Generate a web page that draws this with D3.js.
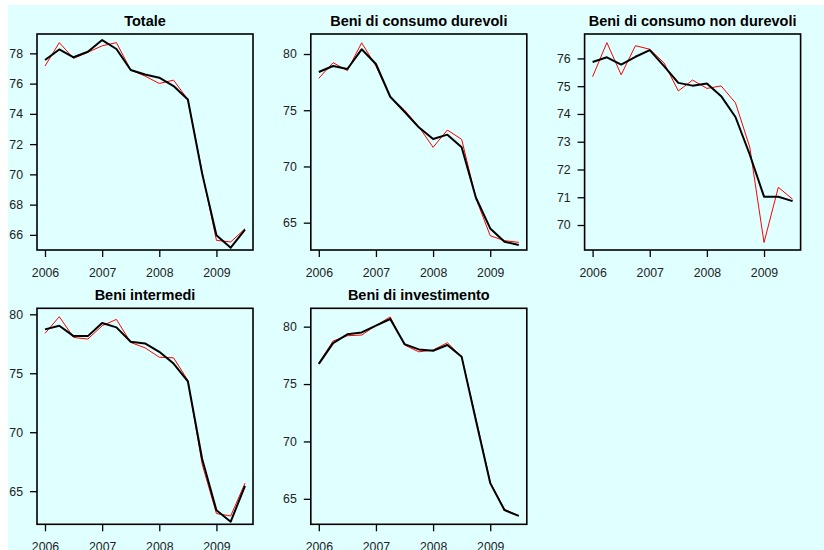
<!DOCTYPE html>
<html>
<head>
  <meta charset="utf-8">
  <title>Grado di utilizzo degli impianti</title>
  <script src="https://d3js.org/d3.v7.min.js"></script>
  <style>
    body {
      margin: 0;
      padding: 0;
      background-color: white;
    }
    svg { display: block; }
    .panel-title {
      font-family: "Liberation Sans", Arial, sans-serif;
      font-weight: bold;
      font-size: 14.5px;
      fill: black;
    }
    .tick text {
      font-family: "Liberation Sans", Arial, sans-serif;
      font-size: 12.3px;
      fill: #222;
    }
  </style>
</head>
<body>

  <div id="chart"></div>

  <script>
    // quarterly periods (2006 Q1 .. 2009 Q3)
    var periods = [2006, 2006.25, 2006.5, 2006.75,
                   2007, 2007.25, 2007.5, 2007.75,
                   2008, 2008.25, 2008.5, 2008.75,
                   2009, 2009.25, 2009.5];
    var yearTicks = [2006, 2007, 2008, 2009];

    var titles = ["Totale", "Beni di consumo durevoli", "Beni di consumo non durevoli",
                  "Beni intermedi", "Beni di investimento"];

    // red: raw series, black: smoothed series
    var totaleRaw    = [77.16, 78.71, 77.67, 78.07, 78.50, 78.71, 76.90, 76.50, 76.01, 76.23, 74.95, 70.16, 65.64, 65.53, 66.41];
    var totaleTrend  = [77.56, 78.26, 77.74, 78.11, 78.88, 78.29, 76.90, 76.60, 76.39, 75.84, 74.95, 70.05, 65.97, 65.15, 66.34];
    var durevoliRaw   = [77.84, 79.23, 78.52, 81.00, 78.93, 76.20, 75.02, 73.54, 71.70, 73.24, 72.41, 67.16, 63.84, 63.40, 63.25];
    var durevoliTrend = [78.40, 78.93, 78.67, 80.42, 79.11, 76.20, 74.87, 73.48, 72.44, 72.83, 71.70, 67.22, 64.49, 63.31, 63.01];
    var nonDurRaw    = [75.34, 76.57, 75.41, 76.46, 76.33, 75.84, 74.83, 75.22, 74.92, 75.01, 74.40, 72.81, 69.37, 71.36, 70.93];
    var nonDurTrend  = [75.87, 76.04, 75.78, 76.06, 76.30, 75.72, 75.12, 75.02, 75.10, 74.64, 73.89, 72.54, 71.02, 71.02, 70.86];
    var intermediRaw   = [78.38, 79.80, 78.04, 77.90, 79.03, 79.57, 77.61, 77.16, 76.36, 76.31, 74.40, 67.30, 63.10, 62.90, 65.68];
    var intermediTrend = [78.72, 79.03, 78.15, 78.15, 79.26, 78.89, 77.67, 77.53, 76.82, 75.82, 74.32, 67.73, 63.38, 62.41, 65.45];
    var investRaw    = [76.82, 78.75, 79.21, 79.27, 80.09, 80.85, 78.40, 77.81, 77.96, 78.60, 77.37, 71.98, 66.43, 64.10, 63.51];
    var investTrend  = [76.76, 78.57, 79.33, 79.50, 80.09, 80.67, 78.48, 78.02, 77.90, 78.40, 77.37, 71.83, 66.37, 64.01, 63.51];

    var rawSeries   = [totaleRaw, durevoliRaw, nonDurRaw, intermediRaw, investRaw];
    var trendSeries = [totaleTrend, durevoliTrend, nonDurTrend, intermediTrend, investTrend];

    // y axis limits and tick labels per panel
    var yLimits = [[65.0, 79.28], [62.57, 81.78], [69.1, 76.88], [62.19, 80.51], [62.78, 81.6]];
    var yTicks = [[66, 68, 70, 72, 74, 76, 78],
                  [65, 70, 75, 80],
                  [70, 71, 72, 73, 74, 75, 76],
                  [65, 70, 75, 80],
                  [65, 70, 75, 80]];

    var width = 824, height = 550;
    var boxW = 216, boxH = 216;
    var left0 = 37, top0 = 34, stepX = 273.8, stepY = 274.3;

    var svg = d3.select("#chart")
      .append("svg")
        .attr("width", width)
        .attr("height", height);

    // background (cyan area with thin white strip top/left)
    svg.append("rect")
        .attr("x", 8).attr("y", 5)
        .attr("width", width - 8).attr("height", height - 5)
        .attr("fill", "#e0ffff");

    var x = d3.scaleLinear()
        .domain([2006 - 0.14, 2009.5 + 0.14])
        .range([0, boxW]);

    titles.forEach(function(title, i) {
      var col = i % 3, row = Math.floor(i / 3);
      var g = svg.append("g")
          .attr("transform", "translate(" + (left0 + col * stepX) + "," + (top0 + row * stepY) + ")");

      var y = d3.scaleLinear()
          .domain(yLimits[i])
          .range([boxH, 0]);

      // axes
      var ya = g.append("g")
          .call(d3.axisLeft(y).tickValues(yTicks[i]).tickSize(7).tickPadding(7).tickFormat(d3.format("d")));
      ya.select(".domain").remove();

      var xa = g.append("g")
          .attr("transform", "translate(0," + boxH + ")")
          .call(d3.axisBottom(x).tickValues(yearTicks).tickSize(7).tickPadding(11).tickFormat(d3.format("d")));
      xa.select(".domain").remove();

      g.selectAll(".tick line").attr("stroke", "black").attr("stroke-width", 1.3);

      var line = d3.line()
          .x(function(d, j) { return x(periods[j]); })
          .y(function(d) { return y(d); });

      g.append("path")
          .attr("d", line(rawSeries[i]))
          .attr("fill", "none")
          .attr("stroke", "#ff0000")
          .attr("stroke-width", 1)
          .attr("stroke-linejoin", "round");

      g.append("path")
          .attr("d", line(trendSeries[i]))
          .attr("fill", "none")
          .attr("stroke", "black")
          .attr("stroke-width", 2)
          .attr("stroke-linejoin", "round");

      // plot box
      g.append("rect")
          .attr("width", boxW)
          .attr("height", boxH)
          .attr("fill", "none")
          .attr("stroke", "black")
          .attr("stroke-width", 1.6);

      g.append("text")
          .attr("class", "panel-title")
          .attr("x", boxW / 2)
          .attr("y", -8)
          .attr("text-anchor", "middle")
          .text(title);
    });
  </script>

</body>
</html>
